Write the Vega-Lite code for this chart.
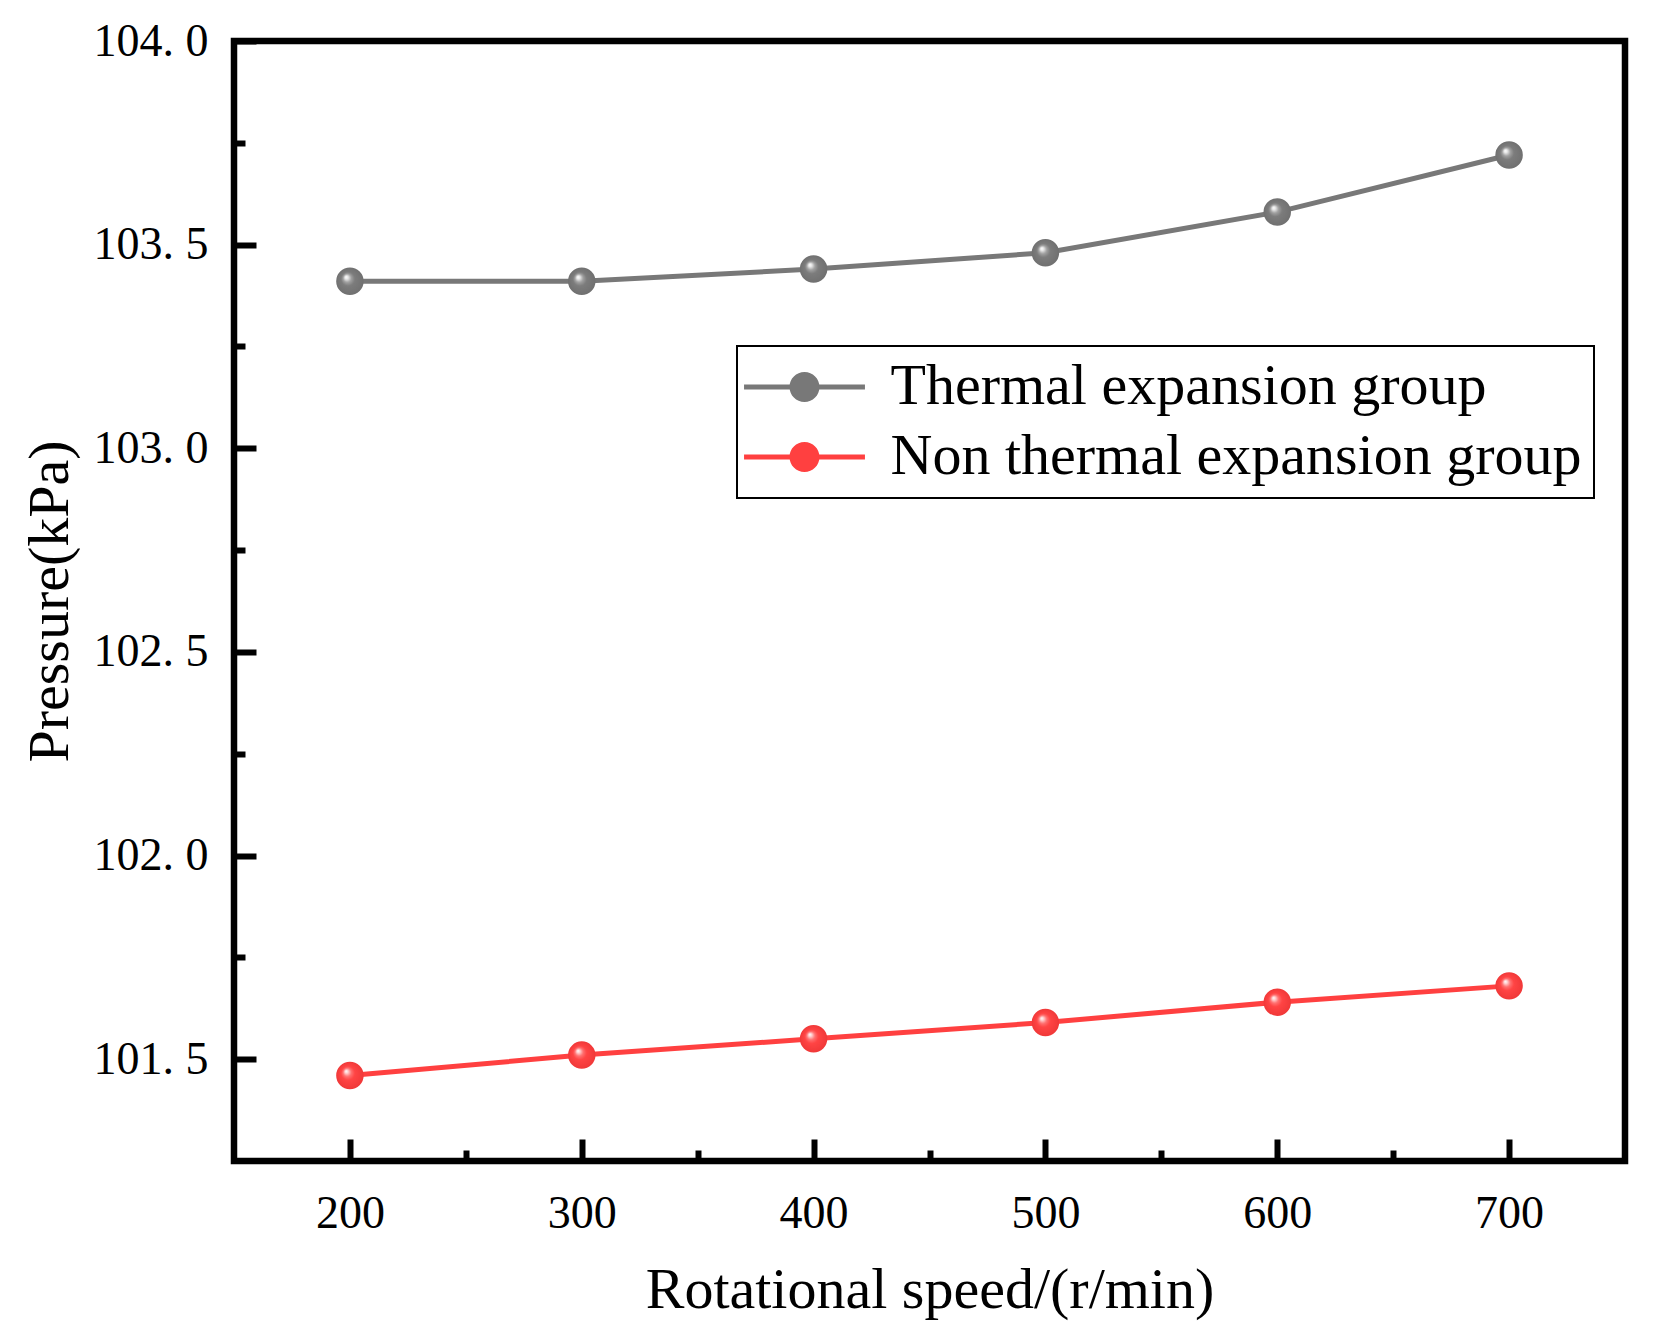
{
  "$schema": "https://vega.github.io/schema/vega-lite/v6.json",
  "width": 1391,
  "height": 1120,
  "autosize": {"type": "none"},
  "padding": {"left": 234, "top": 41, "right": 43, "bottom": 178},
  "background": "white",
  "config": {
    "view": {"stroke": "black", "strokeWidth": 6.5},
    "axis": {
      "domain": false,
      "grid": false,
      "labelFont": "Liberation Serif",
      "labelFontSize": 46,
      "labelColor": "black",
      "titleFont": "Liberation Serif",
      "titleFontSize": 58,
      "titleFontWeight": "normal",
      "titleColor": "black",
      "tickColor": "black",
      "tickWidth": 6,
      "labelFlush": false,
      "labelOverlap": false
    }
  },
  "data": {
    "values": [
      {"speed": 200, "pressure": 103.41, "group": "Thermal expansion group"},
      {"speed": 300, "pressure": 103.41, "group": "Thermal expansion group"},
      {"speed": 400, "pressure": 103.44, "group": "Thermal expansion group"},
      {"speed": 500, "pressure": 103.48, "group": "Thermal expansion group"},
      {"speed": 600, "pressure": 103.58, "group": "Thermal expansion group"},
      {"speed": 700, "pressure": 103.72, "group": "Thermal expansion group"},
      {"speed": 200, "pressure": 101.46, "group": "Non thermal expansion group"},
      {"speed": 300, "pressure": 101.51, "group": "Non thermal expansion group"},
      {"speed": 400, "pressure": 101.55, "group": "Non thermal expansion group"},
      {"speed": 500, "pressure": 101.59, "group": "Non thermal expansion group"},
      {"speed": 600, "pressure": 101.64, "group": "Non thermal expansion group"},
      {"speed": 700, "pressure": 101.68, "group": "Non thermal expansion group"}
    ]
  },
  "encoding": {
    "x": {
      "field": "speed",
      "type": "quantitative",
      "scale": {"domain": [150, 750], "nice": false, "zero": false},
      "axis": {
        "title": "Rotational speed/(r/min)",
        "values": [200, 250, 300, 350, 400, 450, 500, 550, 600, 650, 700],
        "labelExpr": "datum.value % 100 === 0 ? datum.label : ''",
        "tickSize": {"condition": {"test": "datum.value % 100 !== 0", "value": -11}, "value": -22},
        "labelPadding": 52,
        "titlePadding": 14
      }
    },
    "y": {
      "field": "pressure",
      "type": "quantitative",
      "scale": {"domain": [101.25, 104.0], "nice": false, "zero": false},
      "axis": {
        "title": "Pressure(kPa)",
        "values": [101.5, 101.75, 102.0, 102.25, 102.5, 102.75, 103.0, 103.25, 103.5, 103.75, 104.0],
        "labelExpr": "abs(datum.value * 2 - round(datum.value * 2)) < 0.001 ? replace(format(datum.value, '.1f'), '.', '. ') : ''",
        "tickSize": {"condition": {"test": "abs(datum.value * 2 - round(datum.value * 2)) > 0.001", "value": -11}, "value": -22},
        "labelPadding": 48,
        "titlePadding": 14
      }
    }
  },
  "layer": [
    {
      "mark": {"type": "line", "strokeWidth": 5},
      "encoding": {
        "color": {
          "field": "group",
          "type": "nominal",
          "scale": {
            "domain": ["Thermal expansion group", "Non thermal expansion group"],
            "range": ["#787878", "#ff4040"]
          },
          "legend": {
            "orient": "none",
            "legendX": 503,
            "legendY": 305,
            "title": null,
            "symbolType": "M-4.03,-0.167L4.03,-0.167L4.03,0.167L-4.03,0.167Z M1,0A1,1 0 1 1 -1,0A1,1 0 1 1 1,0Z",
            "symbolSize": 900,
            "symbolOffset": 26.5,
            "symbolStrokeWidth": 0,
            "labelFont": "Liberation Serif",
            "labelFontSize": 58,
            "labelColor": "black",
            "labelOffset": 57,
            "labelLimit": 0,
            "strokeColor": "black",
            "fillColor": "white",
            "padding": 12,
            "rowPadding": 12,
            "encode": {
              "legend": {"update": {"strokeWidth": {"value": 2}}},
              "symbols": {
                "update": {
                  "fill": {"scale": "color", "field": "value"},
                  "opacity": {"value": 1}
                }
              }
            }
          }
        }
      }
    },
    {
      "transform": [{"filter": "datum.group === 'Thermal expansion group'"}],
      "mark": {
        "type": "point",
        "filled": true,
        "opacity": 1,
        "size": 755,
        "fill": {
          "gradient": "radial",
          "x1": 0.36, "y1": 0.34, "r1": 0,
          "x2": 0.5, "y2": 0.5, "r2": 0.5,
          "stops": [
            {"offset": 0, "color": "#ffffff"},
            {"offset": 0.12, "color": "#e8e8e8"},
            {"offset": 0.3, "color": "#a0a0a0"},
            {"offset": 0.5, "color": "#7c7c7c"},
            {"offset": 1, "color": "#707070"}
          ]
        }
      }
    },
    {
      "transform": [{"filter": "datum.group === 'Non thermal expansion group'"}],
      "mark": {
        "type": "point",
        "filled": true,
        "opacity": 1,
        "size": 755,
        "fill": {
          "gradient": "radial",
          "x1": 0.36, "y1": 0.34, "r1": 0,
          "x2": 0.5, "y2": 0.5, "r2": 0.5,
          "stops": [
            {"offset": 0, "color": "#ffffff"},
            {"offset": 0.12, "color": "#ffd0d0"},
            {"offset": 0.3, "color": "#ff7070"},
            {"offset": 0.5, "color": "#ff4444"},
            {"offset": 1, "color": "#f03838"}
          ]
        }
      }
    }
  ]
}
